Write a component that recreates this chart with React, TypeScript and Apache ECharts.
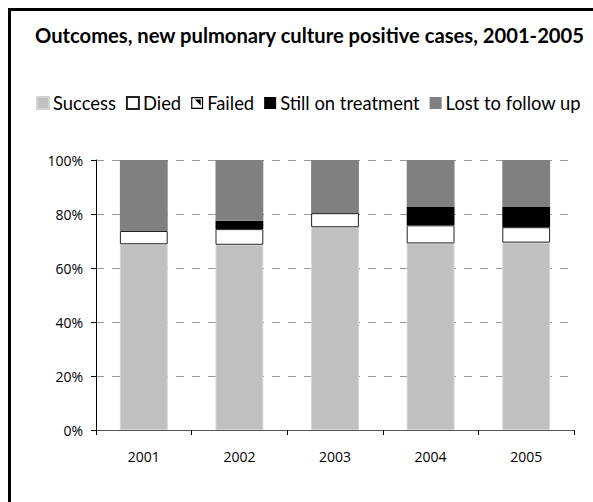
import React, { useEffect, useRef } from "react";
import * as echarts from "echarts";

const years = ["2001", "2002", "2003", "2004", "2005"];
const success = [68.8, 68.6, 75.1, 69.1, 69.4];
const died = [4.9, 5.8, 5.2, 6.7, 5.7];
const failed = [0, 0, 0.3, 0, 0];
const stillOnTreatment = [0, 3.1, 0, 6.8, 7.5];
const lostToFollowUp = [26.3, 22.5, 19.4, 17.4, 17.4];
const yTicks = [0, 20, 40, 60, 80, 100];

const FONT = "'Open Sans', 'DejaVu Sans', sans-serif";
const HEAD = "Lato, 'Open Sans', sans-serif";

export default function App() {
  const ref = useRef<HTMLDivElement>(null);
  useEffect(() => {
    if (!ref.current) return;
    const chart = echarts.init(ref.current, null, { renderer: "svg" });
    const failedIcon =
      "path://M0,0 L10,0 L10,10 L0,10 Z M1,1 L1,9 L9,9 L9,1 Z M3,2 L8,2 L8,7 Z";
    chart.setOption({
      animation: false,
      backgroundColor: "#fff",
      title: {
        text: "Outcomes, new pulmonary culture positive cases, 2001-2005",
        left: 19,
        top: 9,
        textStyle: { fontFamily: HEAD, fontWeight: "bold", fontSize: 20.2, color: "#000" },
      },
      legend: {
        left: 20,
        top: 78,
        itemWidth: 12,
        itemHeight: 12,
        itemGap: 10,
        textStyle: { fontFamily: HEAD, fontSize: 18.4, color: "#000", padding: [0, 0, 0, -1] },
        data: [
          { name: "Success", icon: "rect" },
          { name: "Died", icon: "rect" },
          { name: "Failed", icon: failedIcon, itemStyle: { color: "#000", borderWidth: 0 } },
          { name: "Still on treatment", icon: "rect" },
          { name: "Lost to follow up", icon: "rect" },
        ],
      },
      grid: { left: 85, top: 149, right: 19, bottom: 72 },
      xAxis: {
        type: "category",
        data: years,
        axisLine: { lineStyle: { color: "#555", width: 1 } },
        axisTick: { show: true, length: 5, lineStyle: { color: "#000" } },
        axisLabel: { fontFamily: FONT, fontSize: 14, color: "#000", margin: 19 },
      },
      yAxis: {
        type: "value",
        min: 0,
        max: 100,
        interval: 20,
        axisLine: { show: true, lineStyle: { color: "#000", width: 1 } },
        axisTick: { show: true, length: 5, lineStyle: { color: "#000" } },
        axisLabel: {
          fontFamily: FONT,
          fontSize: 14,
          color: "#000",
          margin: 13,
          formatter: (v: number) => (yTicks.includes(v) ? v + "%" : ""),
        },
        splitLine: { show: true, lineStyle: { color: "#999", type: [8, 8], width: 1 } },
      },
      series: [
        {
          name: "Success",
          type: "bar",
          stack: "s",
          barWidth: "50%",
          data: success,
          itemStyle: { color: "#c0c0c0", borderColor: "#d4d4d4", borderWidth: 1 },
        },
        {
          name: "Died",
          type: "bar",
          stack: "s",
          data: died,
          itemStyle: { color: "#fff", borderColor: "#222", borderWidth: 1 },
        },
        {
          name: "Failed",
          type: "bar",
          stack: "s",
          data: failed,
          itemStyle: { color: "#000", borderWidth: 0 },
        },
        {
          name: "Still on treatment",
          type: "bar",
          stack: "s",
          data: stillOnTreatment,
          itemStyle: { color: "#000" },
        },
        {
          name: "Lost to follow up",
          type: "bar",
          stack: "s",
          data: lostToFollowUp,
          itemStyle: { color: "#808080" },
        },
      ],
    });
    return () => chart.dispose();
  }, []);
  return (
    <div
      style={{
        position: "fixed",
        left: 8,
        top: 8,
        width: 585,
        height: 494,
        borderLeft: "3px solid #000",
        borderTop: "3px solid #000",
        boxSizing: "border-box",
        overflow: "hidden",
        background: "#fff",
      }}
    >
      <div ref={ref} style={{ width: 582, height: 491 }} />
    </div>
  );
}
